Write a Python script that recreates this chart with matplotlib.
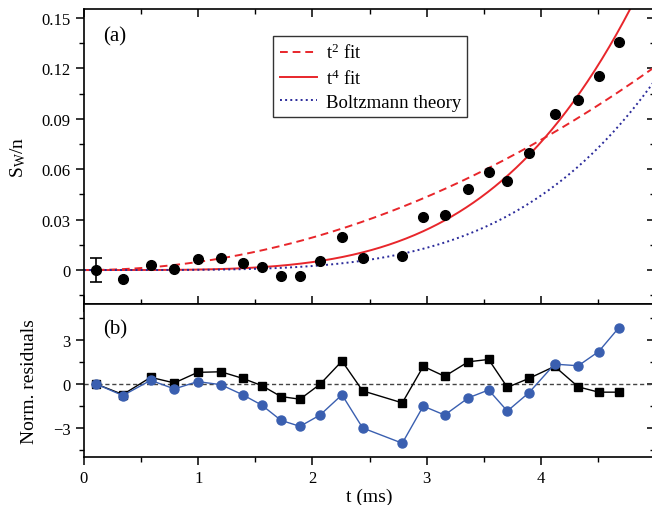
import numpy as np
import matplotlib
matplotlib.use("Agg")
import matplotlib.pyplot as plt
from matplotlib.ticker import MultipleLocator, NullFormatter

plt.rcParams['font.family'] = ['Liberation Serif', 'DejaVu Serif']
plt.rcParams['mathtext.fontset'] = 'custom'
plt.rcParams['mathtext.rm'] = 'Liberation Serif'
plt.rcParams['mathtext.it'] = 'Liberation Serif'

# data
t = [0.105, 0.34, 0.584, 0.791, 0.995, 1.199, 1.39, 1.556, 1.725, 1.891, 2.067,
     2.259, 2.44, 2.787, 2.971, 3.158, 3.365, 3.543, 3.707, 3.897, 4.121, 4.328,
     4.507, 4.682]
sw = [0.0, -0.0052, 0.0033, 0.0006, 0.0063, 0.0071, 0.0042, 0.0016, -0.0036,
      -0.0038, 0.0054, 0.0196, 0.0069, 0.0081, 0.0317, 0.0329, 0.0484, 0.0583,
      0.0533, 0.0698, 0.0928, 0.1012, 0.1156, 0.1357]
err_first = 0.0072
res_t4 = [0.0, -0.72, 0.45, 0.07, 0.79, 0.83, 0.38, -0.11, -0.86, -1.04, -0.02,
          1.56, -0.47, -1.29, 1.20, 0.52, 1.51, 1.67, -0.23, 0.38, 1.20, -0.20,
          -0.56, -0.56]
res_boltz = [0.0, -0.79, 0.25, -0.34, 0.16, -0.05, -0.74, -1.44, -2.48, -2.89,
             -2.12, -0.74, -3.0, -4.04, -1.51, -2.12, -0.95, -0.41, -1.85, -0.59,
             1.35, 1.24, 2.21, 3.82]
# fit parameters: y = A * t**n
t2_fit = (0.00484, 2.0)
t4_fit = (0.000297, 4.0)
boltz = (0.0001311, 4.2)
yticks_a = [0, 0.03, 0.06, 0.09, 0.12, 0.15]
yticklabels_a = ['0', '0.03', '0.06', '0.09', '0.12', '0.15']

W, H = 652, 506
fig = plt.figure(figsize=(W/100, H/100), dpi=100)
left = 84/W
width = 571/W
ax1 = fig.add_axes([left, 1-305/H, width, 295/H])
ax2 = fig.add_axes([left, 1-458/H, width, 153/H])

tc = np.linspace(0, 5, 400)
red = '#e8262b'
ax1.plot(tc, t2_fit[0]*tc**t2_fit[1], '--', color=red, lw=1.4, dashes=(4, 2.5),
         label='t$^2$ fit')
ax1.plot(tc, t4_fit[0]*tc**t4_fit[1], '-', color=red, lw=1.4, label='t$^4$ fit')
ax1.plot(tc, boltz[0]*tc**boltz[1], ':', color='#2a2a9a', lw=1.4,
         label='Boltzmann theory')
ax1.plot(t, sw, 'o', color='black', ms=7, zorder=5)
ax1.errorbar([t[0]], [sw[0]], yerr=[err_first], fmt='none', ecolor='black',
             capsize=4, lw=1.2, capthick=1.2, zorder=5)

ax1.set_xlim(0, 5)
ax1.set_ylim(-0.0202, 0.1554)
ax1.set_yticks(yticks_a)
ax1.set_yticklabels(yticklabels_a)
ax1.yaxis.set_minor_locator(MultipleLocator(0.015))
ax1.xaxis.set_major_locator(MultipleLocator(1))
ax1.xaxis.set_minor_locator(MultipleLocator(0.5))
ax1.tick_params(axis='x', which='both', labelbottom=False)
ax1.set_ylabel('S$_\\mathrm{W}$/n', fontsize=14)
ax1.text(0.033, 0.942, '(a)', transform=ax1.transAxes, fontsize=15, va='top')
leg = ax1.legend(loc='upper left', bbox_to_anchor=(0.331, 0.908), fontsize=13.5,
                 frameon=True, fancybox=False, edgecolor='black', borderaxespad=0,
                 handlelength=2.0, handletextpad=0.45, borderpad=0.35,
                 labelspacing=0.32)
leg.get_frame().set_linewidth(1.0)

ax2.axhline(0, color='#444444', lw=1.0, ls=(0, (3, 2)), zorder=1)
ax2.plot(t, res_t4, '-s', color='black', ms=5.5, lw=1.0, zorder=3)
ax2.plot(t, res_boltz, '-o', color='#3a5fb0', ms=6.5, lw=1.0, zorder=4)
ax2.set_xlim(0, 5)
ax2.set_ylim(-4.98, 5.45)
ax2.yaxis.set_major_locator(MultipleLocator(3))
ax2.yaxis.set_minor_locator(MultipleLocator(1.5))
ax2.xaxis.set_major_locator(MultipleLocator(1))
ax2.xaxis.set_minor_locator(MultipleLocator(0.5))
ax2.tick_params(axis='x', which='both', top=True)
ax2.set_xlabel('t (ms)', fontsize=14, labelpad=1)
ax2.set_ylabel('Norm. residuals', fontsize=14)
ax2.text(0.033, 0.9, '(b)', transform=ax2.transAxes, fontsize=15, va='top')

for ax in (ax1, ax2):
    for s in ax.spines.values():
        s.set_linewidth(1.2)
    ax.tick_params(which='major', length=6, width=1.1, labelsize=12, color='black',
                   direction='out')
    ax.tick_params(which='minor', length=3.5, width=1.0, direction='out')

ax1.yaxis.set_label_coords(-0.098, 0.5)
ax2.yaxis.set_label_coords(-0.081, 0.5)

# inward mirror ticks (top of panel a, right of both panels)
def mirror(ax, side, major, minor):
    if side == 'top':
        sec = ax.secondary_xaxis('top')
        axis = sec.xaxis
    else:
        sec = ax.secondary_yaxis('right')
        axis = sec.yaxis
    axis.set_major_locator(MultipleLocator(major))
    axis.set_minor_locator(MultipleLocator(minor))
    axis.set_major_formatter(NullFormatter())
    sec.tick_params(which='major', direction='in', length=6, width=1.1)
    sec.tick_params(which='minor', direction='in', length=3.5, width=1.0)
    for s in sec.spines.values():
        s.set_visible(False)
    return sec

mirror(ax1, 'top', 1, 0.5)
mirror(ax1, 'right', 0.03, 0.015)
mirror(ax2, 'right', 3, 1.5)

fig.savefig('out.png', dpi=100)
